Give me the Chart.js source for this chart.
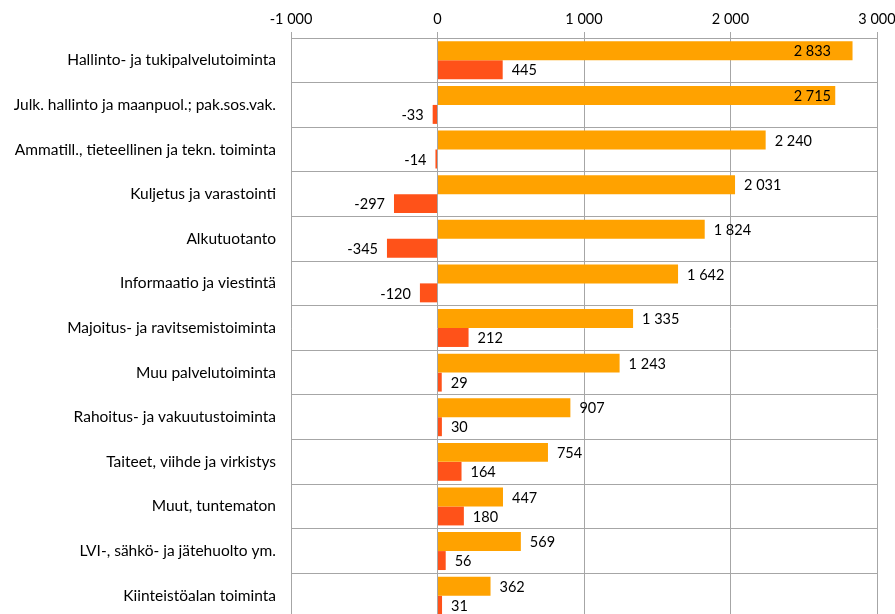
<!DOCTYPE html>
<html>
<head>
<meta charset="utf-8">
<script src="https://cdn.jsdelivr.net/npm/chart.js@4.4.1/dist/chart.umd.min.js"></script>
<style>
  html, body { margin: 0; padding: 0; background: #fff; overflow: hidden; }
  canvas { display: block; }
</style>
</head>
<body>
<canvas id="barChart" width="895" height="618"></canvas>
<script>
const categories = [
  'Hallinto- ja tukipalvelutoiminta',
  'Julk. hallinto ja maanpuol.; pak.sos.vak.',
  'Ammatill., tieteellinen ja tekn. toiminta',
  'Kuljetus ja varastointi',
  'Alkutuotanto',
  'Informaatio ja viestintä',
  'Majoitus- ja ravitsemistoiminta',
  'Muu palvelutoiminta',
  'Rahoitus- ja vakuutustoiminta',
  'Taiteet, viihde ja virkistys',
  'Muut, tuntematon',
  'LVI-, sähkö- ja jätehuolto ym.',
  'Kiinteistöalan toiminta'
];
const seriesA = [2833, 2715, 2240, 2031, 1824, 1642, 1335, 1243, 907, 754, 447, 569, 362];
const seriesB = [445, -33, -14, -297, -345, -120, 212, 29, 30, 164, 180, 56, 31];
const tickValues = [-1000, 0, 1000, 2000, 3000];

const fontFamily = 'Lato, "Open Sans", sans-serif';
const gridColor = '#a6a6a6';

// 2 833, -1 000 ...
function fmt(v) {
  const s = String(Math.abs(v)).replace(/\B(?=(\d{3})+(?!\d))/g, ' ');
  return (v < 0 ? '-' : '') + s;
}

const valueLabels = {
  id: 'valueLabels',
  afterDatasetsDraw(chart) {
    const ctx = chart.ctx;
    const area = chart.chartArea;
    ctx.save();
    ctx.font = '14.5px ' + fontFamily;
    ctx.fillStyle = '#000';
    ctx.textBaseline = 'middle';
    chart.data.datasets.forEach((ds, i) => {
      const meta = chart.getDatasetMeta(i);
      meta.data.forEach((bar, j) => {
        const v = ds.data[j];
        const txt = fmt(v);
        const w = ctx.measureText(txt).width;
        let x;
        if (v >= 0) {
          x = bar.x + 9;
          if (x + w > area.right - 46) x = area.right - 46 - w;
        } else {
          x = bar.x - 9 - w;
        }
        ctx.textAlign = 'left';
        ctx.fillText(txt, x, bar.y + 1);
      });
    });
    ctx.restore();
  }
};

const config = {
  type: 'bar',
  data: {
    labels: categories,
    datasets: [{
      label: 'A',
      data: seriesA,
      backgroundColor: '#ffa200',
      categoryPercentage: 0.85,
      barPercentage: 1.0
    }, {
      label: 'B',
      data: seriesB,
      backgroundColor: '#ff5219',
      categoryPercentage: 0.85,
      barPercentage: 1.0
    }]
  },
  options: {
    indexAxis: 'y',
    responsive: false,
    animation: false,
    layout: { padding: { left: 0, right: 18, top: 0, bottom: 0 } },
    plugins: {
      legend: { display: false },
      tooltip: { enabled: false }
    },
    scales: {
      x: {
        position: 'top',
        min: -1000,
        max: 3000,
        afterBuildTicks: scale => { scale.ticks = tickValues.map(v => ({ value: v })); },
        afterFit: scale => {
          scale.height = 38;
          scale.paddingLeft = 0;
          scale.paddingRight = 0;
        },
        grid: { color: gridColor, tickLength: 6, drawTicks: true },
        border: { color: gridColor },
        ticks: {
          color: '#000',
          padding: 4,
          font: { family: fontFamily, size: 14.5 },
          callback: v => fmt(v)
        }
      },
      y: {
        afterFit: scale => {
          scale.width = 291;
          scale.paddingTop = 0;
          scale.paddingBottom = 0;
        },
        grid: { color: gridColor, drawTicks: false },
        border: { color: gridColor },
        ticks: {
          color: '#000',
          padding: 15,
          font: { family: fontFamily, size: 15.5 }
        }
      }
    }
  },
  plugins: [valueLabels]
};

const barChart = new Chart(document.getElementById('barChart'), config);
</script>
</body>
</html>
